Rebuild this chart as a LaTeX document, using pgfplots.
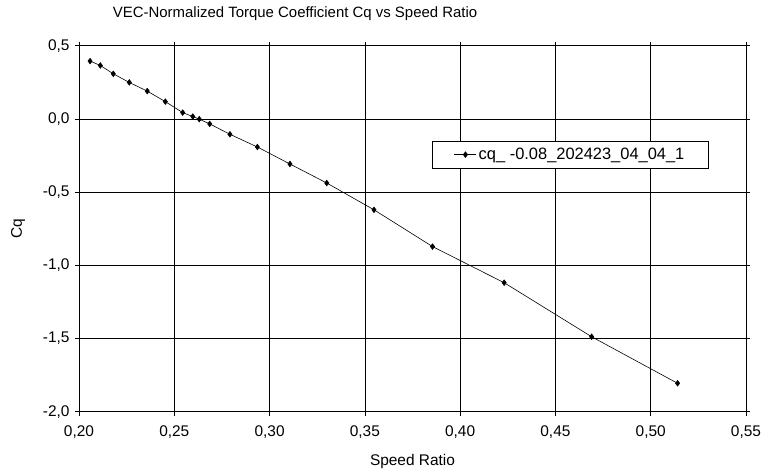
\documentclass[border=0pt]{standalone}
\usepackage{fontspec}
\setmainfont{Liberation Sans}
\usepackage{pgfplots}
\pgfplotsset{compat=1.18}

\begin{document}
\begin{tikzpicture}
% fix the page to 764x473 with the plot area at the origin
\useasboundingbox (-79bp,-61.3bp) rectangle (685bp,411.7bp);
\begin{axis}[
    at={(0,0)}, anchor=south west,
    scale only axis,
    width=667bp, height=366bp,
    xmin=0.20, xmax=0.55,
    ymin=-2.0, ymax=0.5,
    xtick={0.20,0.25,...,0.55},
    ytick={-2.0,-1.5,...,0.5},
    xticklabel style={yshift=-6bp, /pgf/number format/.cd, fixed, fixed zerofill, precision=2, use comma},
    yticklabel style={xshift=-2bp, /pgf/number format/.cd, fixed, fixed zerofill, precision=1, use comma},
    /pgf/number format/assume math mode=true,
    scaled ticks=false,
    tick align=outside,
    major tick length=4bp,
    tick style={black, line width=0.6bp},
    grid=major,
    major grid style={black, line width=0.6bp},
    axis line style={black, line width=0.6bp},
    ticklabel style={font=\fontsize{15.5}{18}\selectfont},
    title={VEC-Normalized Torque Coefficient Cq vs Speed Ratio},
    title style={font=\fontsize{15}{18}\selectfont, at={(axis description cs:0.324,1.072)}, anchor=center},
    xlabel={Speed Ratio},
    xlabel style={font=\fontsize{15.5}{18}\selectfont, at={(axis description cs:0.5,-0.137)}, anchor=center},
    ylabel={Cq},
    ylabel style={font=\fontsize{15.5}{18}\selectfont, at={(axis description cs:-0.0915,0.5)}, anchor=center},
    legend style={at={(axis description cs:0.529,0.740)}, anchor=north west,
        draw=black, line width=0.6bp, font=\fontsize{16.5}{18}\selectfont,
        inner xsep=22bp, inner ysep=5bp, legend cell align=left},
    legend image code/.code={
        \draw[mark repeat=2, mark phase=2, #1] plot coordinates {(0bp,0bp) (11bp,0bp) (22bp,0bp)};},
]
\addplot[black, line width=0.6bp, mark=diamond*, mark size=2.8bp] coordinates {
    (0.2058, 0.395) (0.2112, 0.365) (0.2180, 0.308) (0.2264, 0.249)
    (0.2358, 0.190) (0.2453, 0.118) (0.2544, 0.043) (0.2597, 0.016)
    (0.2631, -0.002) (0.2686, -0.034) (0.2792, -0.105) (0.2936, -0.192)
    (0.3107, -0.308) (0.3300, -0.438) (0.3548, -0.621) (0.3855, -0.872)
    (0.4231, -1.119) (0.4690, -1.488) (0.5141, -1.806)
};
\addlegendentry{cq\_ -0.08\_202423\_04\_04\_1}
\end{axis}
\end{tikzpicture}
\end{document}
